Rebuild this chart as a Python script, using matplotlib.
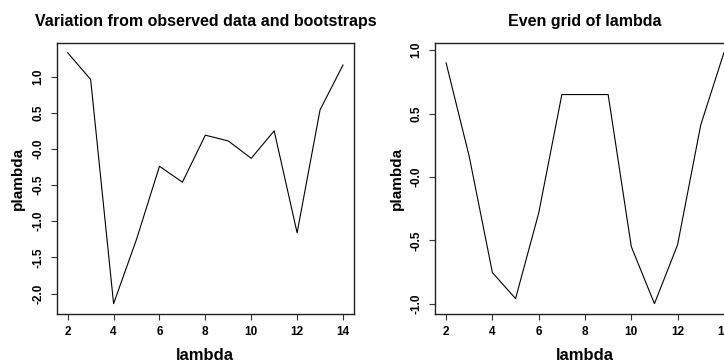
import matplotlib
matplotlib.use("Agg")
import matplotlib.pyplot as plt

lam = [2, 3, 4, 5, 6, 7, 8, 9, 10, 11, 12, 13, 14]
plambda_boot = [1.33, 0.96, -2.14, -1.25, -0.24, -0.46, 0.19, 0.11, -0.13, 0.25, -1.16, 0.54, 1.16]
plambda_grid = [0.90, 0.16, -0.755, -0.96, -0.285, 0.65, 0.65, 0.65, -0.55, -1.0, -0.535, 0.41, 0.98]

x_ticks = [2, 4, 6, 8, 10, 12, 14]
y_ticks_boot = [-2.0, -1.5, -1.0, -0.5, 0.0, 0.5, 1.0]
y_labels_boot = ["-2.0", "-1.5", "-1.0", "-0.5", "-0.0", "0.5", "1.0"]
y_ticks_grid = [-1.0, -0.5, 0.0, 0.5, 1.0]
y_labels_grid = ["-1.0", "-0.5", "-0.0", "0.5", "1.0"]

plt.rcParams["font.family"] = ["Liberation Sans", "DejaVu Sans"]
plt.rcParams["font.weight"] = "bold"


def r_range(values):
    # same 4% padding R uses for plot limits
    lo, hi = min(values), max(values)
    pad = 0.04 * (hi - lo)
    return lo - pad, hi + pad


def draw_panel(ax, x, y, yticks, ylabels, title):
    ax.plot(x, y, color="black", linewidth=0.8)
    ax.set_xlim(*r_range(x))
    ax.set_ylim(*r_range(y))
    ax.set_xticks(x_ticks)
    ax.set_xticklabels([str(t) for t in x_ticks], fontsize=8.5, fontweight="bold")
    ax.set_yticks(yticks)
    ax.set_yticklabels(ylabels, fontsize=8.5, fontweight="bold", rotation=90, va="center")
    ax.tick_params(direction="out", length=4, width=0.8, color="#333333", pad=5)
    for s in ax.spines.values():
        s.set_linewidth(1.0)
        s.set_color("#222222")
    ax.set_xlabel("lambda", fontsize=12, fontweight="bold", labelpad=7)
    ax.set_ylabel("plambda", fontsize=11, fontweight="bold", labelpad=5)
    ax.set_title(title, fontsize=11.5, fontweight="bold", pad=12)


fig = plt.figure(figsize=(7.24, 3.63), dpi=100)
ax1 = fig.add_axes([56.7 / 724, 49.3 / 363, 297.3 / 724, 271 / 363])
ax2 = fig.add_axes([435 / 724, 49.3 / 363, 300 / 724, 271 / 363])

draw_panel(ax1, lam, plambda_boot, y_ticks_boot, y_labels_boot,
           "Variation from observed data and bootstraps")
draw_panel(ax2, lam, plambda_grid, y_ticks_grid, y_labels_grid,
           "Even grid of lambda")

fig.savefig("out.png", dpi=100)
